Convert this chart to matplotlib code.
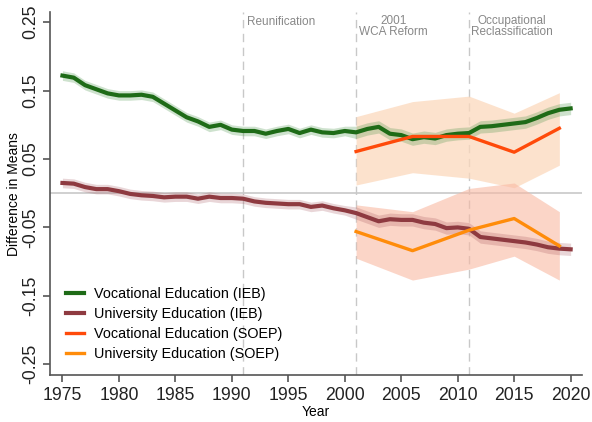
import matplotlib.pyplot as plt
import numpy as np

plt.rcParams['font.family'] = ['Liberation Sans', 'DejaVu Sans']

years = np.arange(1975, 2021)
voc_ieb = [0.172, 0.169, 0.158, 0.152, 0.146, 0.143, 0.143, 0.144, 0.141, 0.131,
           0.121, 0.111, 0.105, 0.097, 0.100, 0.093, 0.091, 0.091, 0.087, 0.091,
           0.094, 0.088, 0.093, 0.089, 0.088, 0.091, 0.089, 0.094, 0.097, 0.087,
           0.085, 0.079, 0.082, 0.080, 0.085, 0.087, 0.088, 0.097, 0.098, 0.100,
           0.102, 0.104, 0.110, 0.117, 0.122, 0.124]
uni_ieb = [0.015, 0.014, 0.009, 0.006, 0.006, 0.003, -0.001, -0.003, -0.004, -0.006,
           -0.005, -0.005, -0.008, -0.005, -0.007, -0.007, -0.008, -0.012, -0.014, -0.015,
           -0.016, -0.016, -0.020, -0.018, -0.022, -0.025, -0.029, -0.035, -0.041, -0.038,
           -0.039, -0.039, -0.043, -0.045, -0.051, -0.050, -0.052, -0.064, -0.066, -0.068,
           -0.070, -0.072, -0.075, -0.079, -0.081, -0.082]
ieb_se = [0.007] * 26 + [0.009] * 20

soep_years = [2001, 2006, 2011, 2015, 2019]
voc_soep = [0.061, 0.083, 0.083, 0.060, 0.095]
voc_soep_hi = [0.112, 0.134, 0.142, 0.117, 0.147]
voc_soep_lo = [0.012, 0.030, 0.022, 0.008, 0.041]
uni_soep = [-0.056, -0.084, -0.054, -0.037, -0.077]
uni_soep_hi = [-0.017, -0.027, 0.007, 0.015, -0.027]
uni_soep_lo = [-0.095, -0.127, -0.111, -0.092, -0.127]

events = [1991, 2001, 2011]

fig = plt.figure(figsize=(5.92, 4.22), dpi=100)
ax = fig.add_axes([0.0845, 0.111, 0.8985, 0.8606])

c_green = '#1e6b17'
c_maroon = '#8e3a40'
c_voc = '#ff4a0a'
c_uni = '#ff8c0a'

voc_ieb = np.array(voc_ieb)
uni_ieb = np.array(uni_ieb)
se = np.array(ieb_se)

ax.axhline(0, color='#c8c8c8', lw=1.2, zorder=1)
for e in events:
    ax.axvline(e, color='#c8c8c8', lw=1.0, ls=(0, (6, 4)), zorder=1)

ax.fill_between(soep_years, voc_soep_lo, voc_soep_hi, color='#fcd9bd', alpha=0.75, lw=0, zorder=2)
ax.fill_between(soep_years, uni_soep_lo, uni_soep_hi, color='#f9b9a3', alpha=0.6, lw=0, zorder=2)

ax.fill_between(years, voc_ieb - se, voc_ieb + se, color='#3c8c3c', alpha=0.25, lw=0, zorder=3)
ax.fill_between(years, uni_ieb - se, uni_ieb + se, color='#9c4650', alpha=0.22, lw=0, zorder=3)

ax.plot(years, voc_ieb, color=c_green, lw=3.0, label='Vocational Education (IEB)', zorder=4)
ax.plot(years, uni_ieb, color=c_maroon, lw=3.0, label='University Education (IEB)', zorder=4)
ax.plot(soep_years, voc_soep, color=c_voc, lw=2.4, label='Vocational Education (SOEP)', zorder=5)
ax.plot(soep_years, uni_soep, color=c_uni, lw=2.4, label='University Education (SOEP)', zorder=5)

ax.text(1991.3, 0.251, 'Reunification', fontsize=8.5, color='#888888', va='center', ha='left')
ax.text(2004.3, 0.2435, '2001\nWCA Reform', fontsize=8.5, color='#888888', va='center', ha='center',
        linespacing=0.95)
ax.text(2014.8, 0.2435, 'Occupational\nReclassification', fontsize=8.5, color='#888888', va='center',
        ha='center', linespacing=0.95)

ax.set_xlim(1973.9, 2021.0)
ax.set_ylim(-0.266, 0.265)
ax.set_xticks(range(1975, 2021, 5))
ax.set_yticks([-0.25, -0.15, -0.05, 0.05, 0.15, 0.25])
ax.set_yticklabels(['-0.25', '-0.15', '-0.05', '0.05', '0.15', '0.25'], rotation=90, va='center')
ax.tick_params(axis='both', labelsize=12.7, color='#555555', labelcolor='#222222', length=5, width=1.2)
ax.tick_params(axis='y', pad=3)
for s in ['top', 'right']:
    ax.spines[s].set_visible(False)
for s in ['left', 'bottom']:
    ax.spines[s].set_color('#555555')
    ax.spines[s].set_linewidth(1.2)

ax.set_xlabel('Year', fontsize=10, labelpad=1)
ax.set_ylabel('Difference in Means', fontsize=10, labelpad=1)

ax.legend(loc='lower left', bbox_to_anchor=(0.005, 0.003), frameon=False, fontsize=10.4,
          handlelength=1.25, handletextpad=0.7, labelspacing=0.42, borderaxespad=0.5)

plt.savefig('out.png', dpi=100)
